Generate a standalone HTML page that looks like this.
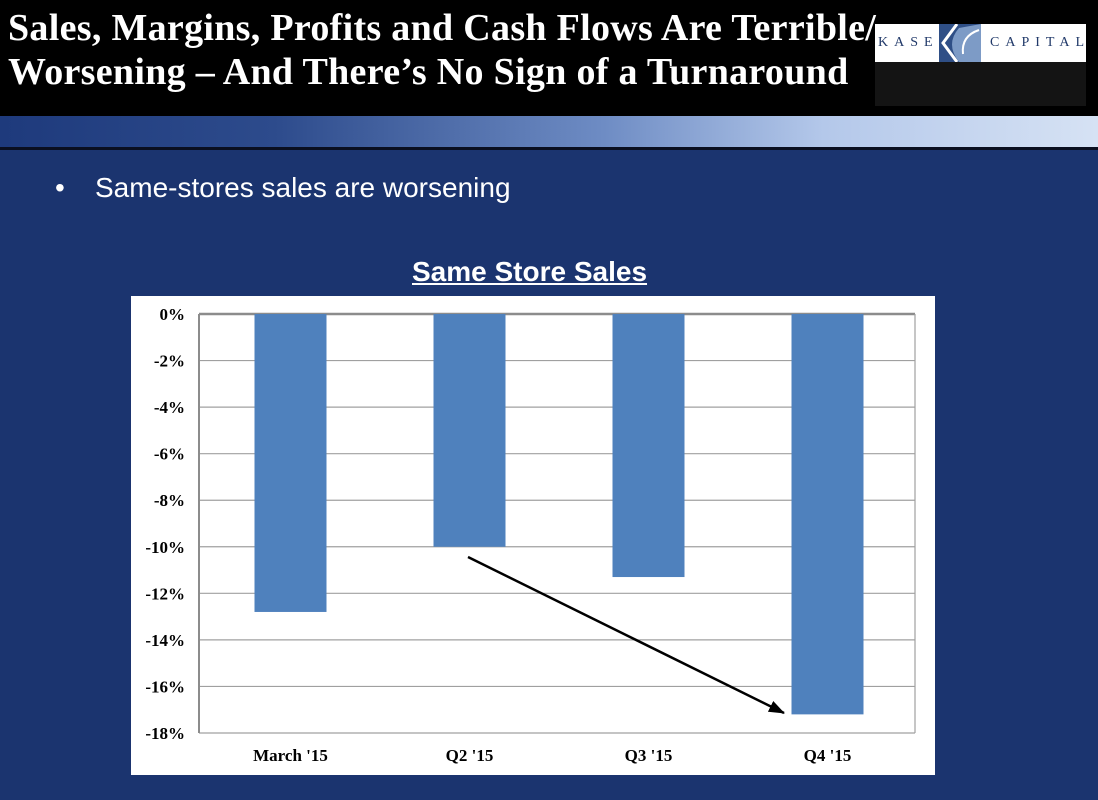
<!DOCTYPE html>
<html><head><meta charset="utf-8"><style>
body{margin:0;width:1098px;height:800px;overflow:hidden;position:relative;background:#1b346f;font-family:"Liberation Sans",sans-serif}
#header{position:absolute;left:0;top:0;width:1098px;height:116px;background:#000}
#title{position:absolute;left:8px;top:6px;color:#fff;font-family:"Liberation Serif",serif;font-weight:bold;font-size:38px;line-height:44px;margin:0;letter-spacing:0.3px;white-space:nowrap}
#stripe{position:absolute;left:0;top:116px;width:1098px;height:31px;background:linear-gradient(90deg,#1e3a7c 0%,#2d4b8c 25%,#6e8cc4 55%,#b4c8ea 75%,#d6e2f4 100%)}
#stripe-line{position:absolute;left:0;top:147px;width:1098px;height:3px;background:#0a0f20}
#logo{position:absolute;left:875px;top:24px;width:211px;height:82px;background:#141414}
#logo-top{position:absolute;left:0;top:0;width:211px;height:38px;background:#fff;font-family:"Liberation Serif",serif;font-size:14px;color:#223a6a;letter-spacing:6px}
#bullet{position:absolute;left:55px;top:172px;color:#fff;font-size:28px}
#bullet-text{position:absolute;left:95px;top:172px;color:#fff;font-size:28px}
#chart-title{position:absolute;left:412px;top:256px;color:#fff;font-weight:bold;font-size:28px;text-decoration:underline}
</style></head><body>
<div id="header"></div>
<h1 id="title">Sales, Margins, Profits and Cash Flows Are Terrible/<br>Worsening – And There’s No Sign of a Turnaround</h1>
<div id="logo">
<div id="logo-top"><span style="position:absolute;left:3px;top:11px">KASE</span>
<svg style="position:absolute;left:64px;top:0" width="42" height="38"><rect width="42" height="38" fill="#2f4f86"/><path d="M42 0 L42 38 L20 38 Q6 20 20 4 Z" fill="#7d9bc6"/><path d="M18 0 L4 19 L18 38" stroke="#fff" stroke-width="3" fill="none"/><path d="M40 6 Q22 12 24 30" stroke="#fff" stroke-width="2" fill="none"/></svg>
<span style="position:absolute;left:115px;top:11px">CAPITAL</span></div></div>
<div id="stripe"></div>
<div id="stripe-line"></div>
<div id="bullet">•</div>
<div id="bullet-text">Same-stores sales are worsening</div>
<div id="chart-title">Same Store Sales</div>
<svg id="chart" style="position:absolute;left:0;top:0" width="1098" height="800">
<rect x="131" y="296" width="804" height="479" fill="#fff"/>
<g id="grid"></g><g id="bars"></g><g id="labels"></g>
<defs><marker id="ah" markerWidth="16" markerHeight="12" refX="15" refY="6" orient="auto" markerUnits="userSpaceOnUse"><path d="M0 0 L16 6 L0 12 Z" fill="#000"/></marker></defs>
<line id="trend-arrow" x1="468" y1="557" x2="784" y2="713" stroke="#000" stroke-width="2.5" marker-end="url(#ah)"/>
</svg>
<script>
const categories=["March '15","Q2 '15","Q3 '15","Q4 '15"];
const values=[-12.8,-10.0,-11.3,-17.2];
const ticks=[0,-2,-4,-6,-8,-10,-12,-14,-16,-18];
const NS="http://www.w3.org/2000/svg";
const px0=199,px1=915,py0=314,py1=733;
const y=v=>py0+(0-v)/18*(py1-py0);
const bw=(px1-px0)/categories.length;
const x=i=>px0+2+bw*i+bw/2;
const grid=document.getElementById('grid'),bars=document.getElementById('bars'),labels=document.getElementById('labels');
function mk(t,a,p){const e=document.createElementNS(NS,t);for(const k in a)e.setAttribute(k,a[k]);p.appendChild(e);return e;}
ticks.forEach(t=>{
 const l=mk('line',{x1:px0,x2:px1,y1:y(t),y2:y(t),stroke:t===0?'#8c8c8c':'#a0a0a0','stroke-width':t===0?2.5:1.2},grid);
 
 
 const tx=mk('text',{x:px0-14,y:y(t)+6,'text-anchor':'end','font-family':'Liberation Serif,serif','font-weight':'bold','font-size':'17',fill:'#000'},labels);
 tx.textContent=t+'%';
 
 
});
const ax=mk('line',{x1:px0,x2:px0,y1:py0,y2:py1,stroke:'#8c8c8c','stroke-width':2},grid);


const rb=mk('line',{x1:px1,x2:px1,y1:py0,y2:py1,stroke:'#a0a0a0','stroke-width':1.2},grid);


categories.forEach((c,i)=>{
 const w=72;
 const r=mk('rect',{x:x(i)-w/2,y:y(0),width:w,height:y(values[i])-y(0),fill:'#4f81bd'},bars);
 
 
 const tx=mk('text',{x:x(i),y:py1+28,'text-anchor':'middle','font-family':'Liberation Serif,serif','font-weight':'bold','font-size':'17',fill:'#000'},labels);
 tx.textContent=c;
 
 
});
</script>
</body></html>
